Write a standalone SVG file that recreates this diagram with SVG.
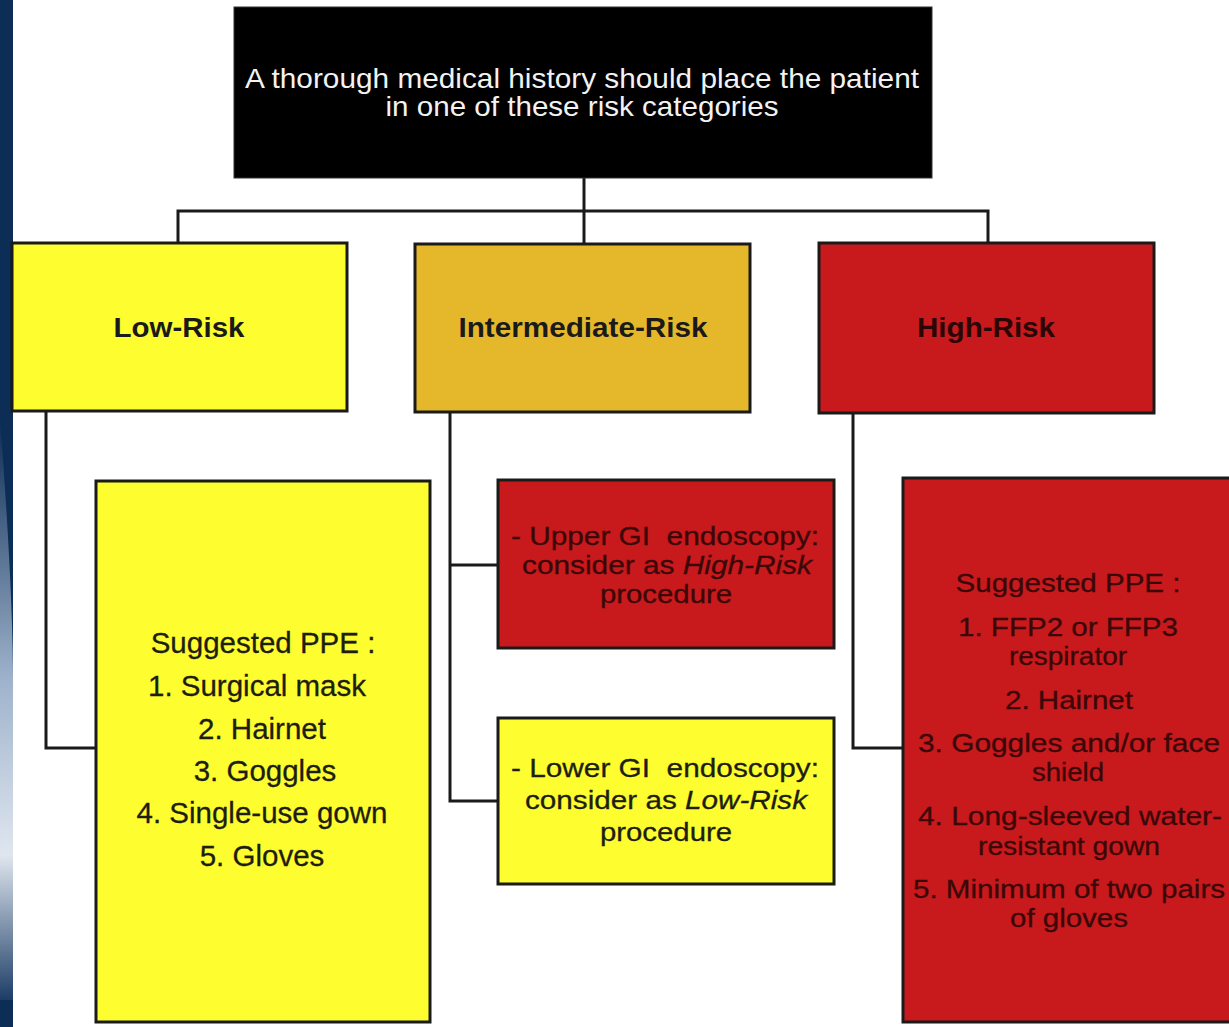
<svg xmlns="http://www.w3.org/2000/svg" width="1229" height="1027" viewBox="0 0 1229 1027" font-family="'Liberation Sans', Arial, sans-serif">
  <defs>
    <linearGradient id="bgEdge" x1="0" y1="0" x2="0" y2="1">
      <stop offset="0" stop-color="#0c2d55"/>
      <stop offset="0.45" stop-color="#9fb3cc"/>
      <stop offset="0.75" stop-color="#dfe6ef"/>
      <stop offset="1" stop-color="#1d3d66"/>
    </linearGradient>
  </defs>
  <style>
    .box { stroke: #1a1a1a; stroke-width: 3; }
    .yellow { fill: #fdfd30; }
    .gold { fill: #e5b82b; }
    .red { fill: #c8191c; }
    .black { fill: #000000; stroke: #333; }
    .conn { fill: none; stroke: #1a1a1a; stroke-width: 3; }
    text { font-family: "Liberation Sans", Arial, sans-serif; font-size: 29.5px; text-anchor: middle; }
    .hdr { font-weight: bold; fill: #1a1a1a; font-size: 28px; }
    .hdrRed { font-weight: bold; fill: #2a0606; font-size: 28px; }
    .dark { fill: #1e1e10; stroke: #1e1e10; stroke-width: 0.3; }
    .darkRed { fill: #3a0808; stroke: #3a0808; stroke-width: 0.3; }
    .tight { font-size: 26px; }
    .white { fill: #f2f2f2; font-size: 28px; }
  </style>
  <rect x="0" y="0" width="1229" height="1027" fill="#ffffff"/>
  <!-- background edge -->
  <rect x="0" y="0" width="13" height="1027" fill="#0c2d55"/>
  <path d="M0,420 Q14,600 13,700 L13,1000 L0,1000 Z" fill="url(#bgEdge)"/>

  <g id="connectors">
    <path class="conn" d="M584,178 V244"/>
    <path class="conn" d="M178,243 V211 H988 V243"/>
    <path class="conn" d="M46,411 V748 H96"/>
    <path class="conn" d="M450,412 V801 H498"/>
    <path class="conn" d="M450,565 H498"/>
    <path class="conn" d="M853,413 V748 H903"/>
  </g>

  <g id="root">
    <rect class="black" x="234" y="7" width="698" height="171"/>
    <text class="white" x="582" y="88" textLength="674" lengthAdjust="spacingAndGlyphs">A thorough medical history should place the patient</text>
    <text class="white" x="582" y="116" textLength="393" lengthAdjust="spacingAndGlyphs">in one of these risk categories</text>
  </g>

  <g id="low-risk">
    <rect class="box yellow" x="12" y="243" width="335" height="168"/>
    <text class="hdr" x="179" y="337" textLength="131" lengthAdjust="spacingAndGlyphs">Low-Risk</text>
  </g>

  <g id="intermediate-risk">
    <rect class="box gold" x="415" y="244" width="335" height="168"/>
    <text class="hdr" x="583" y="337" textLength="249" lengthAdjust="spacingAndGlyphs">Intermediate-Risk</text>
  </g>

  <g id="high-risk">
    <rect class="box red" x="819" y="243" width="335" height="170"/>
    <text class="hdrRed" x="986" y="337" textLength="138" lengthAdjust="spacingAndGlyphs">High-Risk</text>
  </g>

  <g id="low-ppe">
    <rect class="box yellow" x="96" y="481" width="334" height="541"/>
    <text class="dark" x="263" y="653">Suggested PPE :</text>
    <text class="dark" x="257" y="696">1. Surgical mask</text>
    <text class="dark" x="262" y="739">2. Hairnet</text>
    <text class="dark" x="265" y="781">3. Goggles</text>
    <text class="dark" x="262" y="823">4. Single-use gown</text>
    <text class="dark" x="262" y="866">5. Gloves</text>
  </g>

  <g id="upper-gi">
    <rect class="box red" x="498" y="480" width="336" height="168"/>
    <text class="darkRed tight" x="665" y="545" textLength="308" lengthAdjust="spacingAndGlyphs">- Upper GI&#160; endoscopy:</text>
    <text class="darkRed tight" x="667" y="574" textLength="290" lengthAdjust="spacingAndGlyphs">consider as <tspan font-style="italic">High-Risk</tspan></text>
    <text class="darkRed tight" x="666" y="603" textLength="132" lengthAdjust="spacingAndGlyphs">procedure</text>
  </g>

  <g id="lower-gi">
    <rect class="box yellow" x="498" y="718" width="336" height="166"/>
    <text class="dark tight" x="665" y="777" textLength="308" lengthAdjust="spacingAndGlyphs">- Lower GI&#160; endoscopy:</text>
    <text class="dark tight" x="666" y="809" textLength="282" lengthAdjust="spacingAndGlyphs">consider as <tspan font-style="italic">Low-Risk</tspan></text>
    <text class="dark tight" x="666" y="841" textLength="132" lengthAdjust="spacingAndGlyphs">procedure</text>
  </g>

  <g id="high-ppe">
    <rect class="box red" x="903" y="478" width="340" height="544"/>
    <text class="darkRed tight" x="1068" y="592" textLength="225" lengthAdjust="spacingAndGlyphs">Suggested PPE :</text>
    <text class="darkRed tight" x="1068" y="636" textLength="220" lengthAdjust="spacingAndGlyphs">1. FFP2 or FFP3</text>
    <text class="darkRed tight" x="1068" y="665" textLength="118" lengthAdjust="spacingAndGlyphs">respirator</text>
    <text class="darkRed tight" x="1069" y="709" textLength="128" lengthAdjust="spacingAndGlyphs">2. Hairnet</text>
    <text class="darkRed tight" x="1069" y="752" textLength="302" lengthAdjust="spacingAndGlyphs">3. Goggles and/or face</text>
    <text class="darkRed tight" x="1068" y="781" textLength="72" lengthAdjust="spacingAndGlyphs">shield</text>
    <text class="darkRed tight" x="1070" y="825" textLength="304" lengthAdjust="spacingAndGlyphs">4. Long-sleeved water-</text>
    <text class="darkRed tight" x="1069" y="855" textLength="182" lengthAdjust="spacingAndGlyphs">resistant gown</text>
    <text class="darkRed tight" x="1069" y="898" textLength="312" lengthAdjust="spacingAndGlyphs">5. Minimum of two pairs</text>
    <text class="darkRed tight" x="1069" y="927" textLength="118" lengthAdjust="spacingAndGlyphs">of gloves</text>
  </g>
</svg>
